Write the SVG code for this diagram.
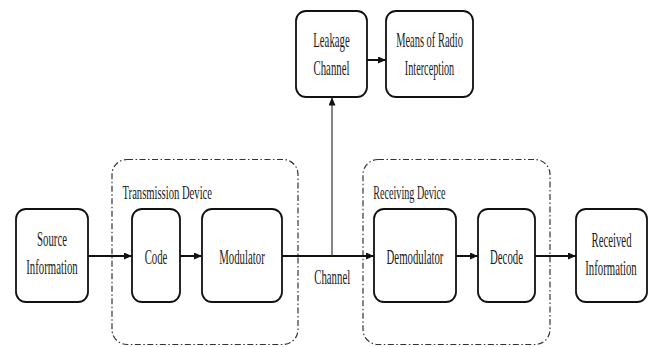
<svg xmlns="http://www.w3.org/2000/svg" width="652" height="347" viewBox="0 0 652 347">
<style>
.node{fill:#fff;stroke:#111;stroke-width:1.8}
.grp{fill:none;stroke:#333;stroke-width:1.2;stroke-dasharray:6 2.5 1.5 2.5}
.lbl{font-family:"Liberation Serif","Times New Roman",serif;font-size:22px;fill:#1a1a1a;text-anchor:middle}
.glbl{font-family:"Liberation Serif","Times New Roman",serif;font-size:18px;fill:#1a1a1a}
.edge{fill:none;stroke:#111;stroke-width:2}
.thin{fill:none;stroke:#333;stroke-width:1.2}
</style>
<defs>
<marker id="ah" markerUnits="userSpaceOnUse" markerWidth="9" markerHeight="8" refX="8" refY="3.5" orient="auto">
<path d="M0,0 L8,3.5 L0,7 Z" fill="#111"/>
</marker>
</defs>
<g id="transmission-device">
<rect class="grp" x="112" y="159.5" width="186" height="185" rx="15"/>
<text class="glbl" transform="translate(122.5,199) scale(0.59,1)">Transmission Device</text>
</g>
<g id="receiving-device">
<rect class="grp" x="363" y="159.5" width="187" height="185" rx="15"/>
<text class="glbl" transform="translate(373.3,198.5) scale(0.563,1)">Receiving Device</text>
</g>
<g id="connectors">
<path class="edge" d="M88,256 H132" marker-end="url(#ah)"/>
<path class="edge" d="M180,256 H202" marker-end="url(#ah)"/>
<path class="edge" d="M282,256 H374" marker-end="url(#ah)"/>
<path class="edge" d="M456,256 H478" marker-end="url(#ah)"/>
<path class="edge" d="M535,256 H576" marker-end="url(#ah)"/>
<path class="thin" d="M332,256 V97.5" marker-end="url(#ah)"/>
<path class="edge" d="M367,60 H386" marker-end="url(#ah)"/>
<text class="lbl" font-size="21" transform="translate(332.2,284) scale(0.49,1)">Channel</text>
</g>
<g id="source">
<rect class="node" x="16" y="209" width="72" height="93" rx="10"/>
<text class="lbl" transform="translate(52,246) scale(0.49,1)">Source</text>
<text class="lbl" transform="translate(52,274) scale(0.49,1)">Information</text>
</g>
<g id="code">
<rect class="node" x="132" y="209" width="48" height="93" rx="10"/>
<text class="lbl" transform="translate(156,263.5) scale(0.49,1)">Code</text>
</g>
<g id="modulator">
<rect class="node" x="202" y="209" width="80" height="93" rx="10"/>
<text class="lbl" transform="translate(242,263.5) scale(0.49,1)">Modulator</text>
</g>
<g id="demodulator">
<rect class="node" x="374" y="209" width="82" height="93" rx="10"/>
<text class="lbl" transform="translate(415,263.5) scale(0.49,1)">Demodulator</text>
</g>
<g id="decode">
<rect class="node" x="478" y="209" width="57" height="93" rx="10"/>
<text class="lbl" transform="translate(506.5,263.5) scale(0.49,1)">Decode</text>
</g>
<g id="received">
<rect class="node" x="576" y="209" width="71" height="93" rx="10"/>
<text class="lbl" transform="translate(611.5,246.5) scale(0.49,1)">Received</text>
<text class="lbl" transform="translate(611,274.5) scale(0.49,1)">Information</text>
</g>
<g id="leakage">
<rect class="node" x="296" y="11" width="71" height="86" rx="10"/>
<text class="lbl" transform="translate(331.5,46.5) scale(0.49,1)">Leakage</text>
<text class="lbl" transform="translate(331.5,74.5) scale(0.49,1)">Channel</text>
</g>
<g id="means">
<rect class="node" x="386" y="11" width="87" height="86" rx="10"/>
<text class="lbl" transform="translate(429.5,46.5) scale(0.475,1)">Means of Radio</text>
<text class="lbl" transform="translate(429.5,74.5) scale(0.465,1)">Interception</text>
</g>
</svg>
